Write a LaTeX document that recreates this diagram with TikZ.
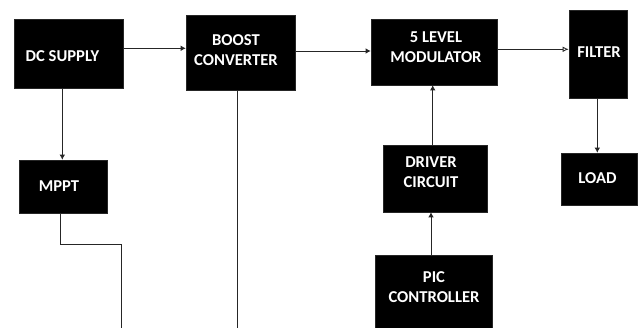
\documentclass[tikz,border=0pt]{standalone}
\usepackage{fontspec}
\setmainfont{Carlito}
\usetikzlibrary{arrows.meta}
\begin{document}
\begin{tikzpicture}[x=1pt,y=1pt,
  blk/.style={fill=black,draw=black!85,line width=0.6pt,inner sep=0pt},
  lbl/.style={text=white,font=\fontsize{16.6}{20}\selectfont\bfseries,align=center,inner sep=0pt},
  conn/.style={draw=black!85,line width=0.8pt},
  arr/.style={conn,-{Latex[length=5pt,width=5.5pt]}},
  oarr/.style={conn,-{Latex[open,length=6pt,width=5.5pt]}}]
\path[use as bounding box,clip] (0,0) rectangle (640,327);
% boxes
\node[blk,minimum width=109pt,minimum height=69pt] (dc) at (68.5,273.5) {};
\node[blk,minimum width=109pt,minimum height=75pt] (boost) at (240.5,274.5) {};
\node[blk,minimum width=126pt,minimum height=66pt] (mod) at (434,275) {};
\node[blk,minimum width=58pt,minimum height=88pt] (filter) at (598,273) {};
\node[blk,minimum width=76pt,minimum height=52pt] (load) at (599,148) {};
\node[blk,minimum width=88pt,minimum height=53pt] (mppt) at (63.5,140.5) {};
\node[blk,minimum width=104pt,minimum height=67pt] (driver) at (435,148.5) {};
\node[blk,minimum width=117pt,minimum height=80pt] (pic) at (433.5,32) {};
% labels
\node[lbl] (tdc) at (62.5,271) {DC SUPPLY};
\node[lbl] (tboost) at (236,277) {BOOST\\CONVERTER};
\node[lbl] (tmod) at (436,280) {5 LEVEL\\MODULATOR};
\node[lbl] (tfilter) at (599,275) {FILTER};
\node[lbl] (tload) at (597.5,149.3) {LOAD};
\node[lbl] (tmppt) at (59,141) {MPPT};
\node[lbl] (tdriver) at (431,154.5) {DRIVER\\CIRCUIT};
\node[lbl] (tpic) at (434,40) {PIC\\CONTROLLER};
% bottom free ends
\coordinate (mbend1) at (60.3,82.7);
\coordinate (mbend2) at (121,82.7);
\coordinate (mend) at (121,-5);
\coordinate (bend) at (237.3,-5);
% connectors
\draw[arr] (dc.east |- 0,278.7) -- (boost.west |- 0,278.7);
\draw[arr] (boost.east |- 0,276) -- (mod.west |- 0,276);
\draw[oarr] (mod.east |- 0,277.7) -- (filter.west |- 0,277.7);
\draw[arr] (filter.south -| 597.3,0) -- (load.north -| 597.3,0);
\draw[arr] (dc.south -| 62.3,0) -- (mppt.north -| 62.3,0);
\draw[conn] (mppt.south -| mbend1) -- (mbend1) -- (mbend2) -- (mend);
\draw[conn] (boost.south -| bend) -- (bend);
\draw[arr] (driver.north -| 432.7,0) -- (mod.south -| 432.7,0);
\draw[arr] (pic.north -| 431,0) -- (driver.south -| 431,0);
\end{tikzpicture}
\end{document}
